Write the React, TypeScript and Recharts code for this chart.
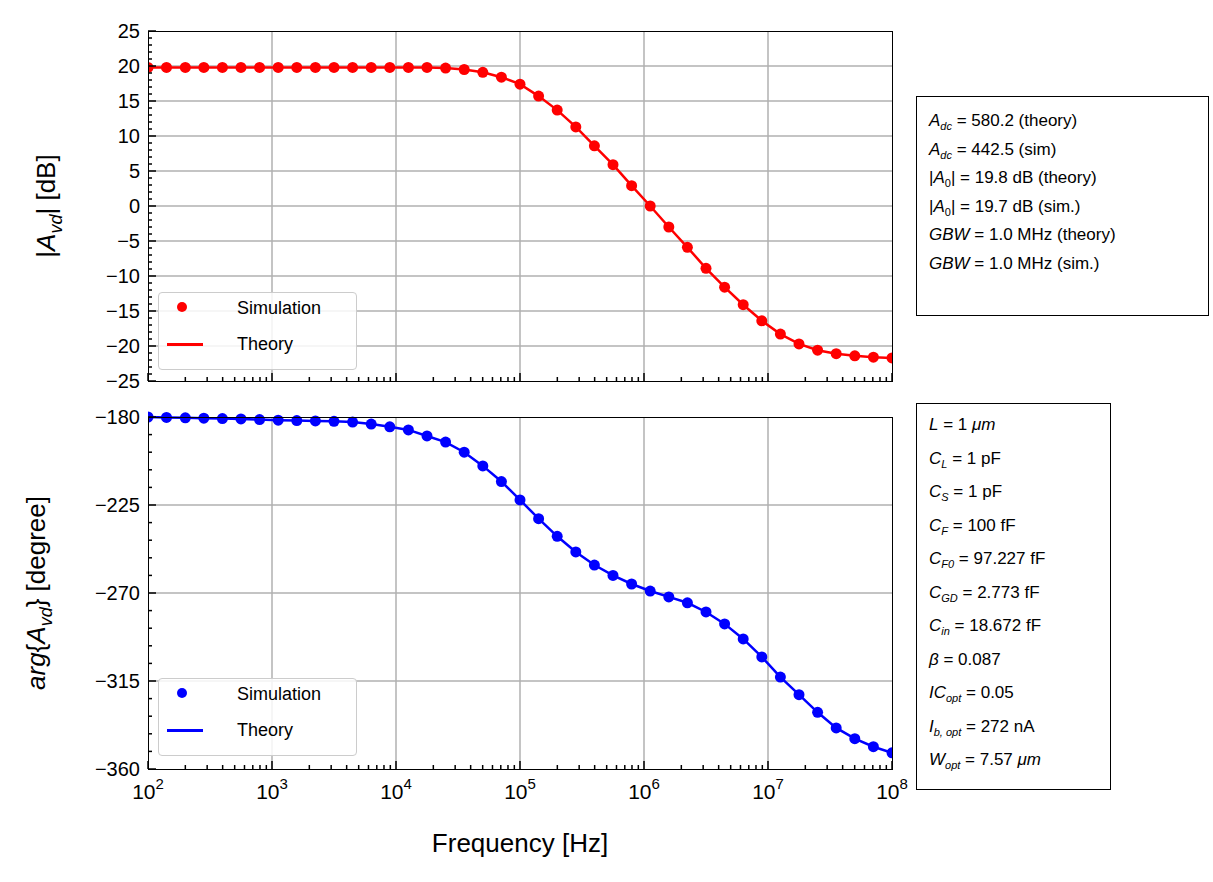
import { LineChart, Line, XAxis, YAxis, ReferenceLine } from "recharts";

const freq = [
  100, 141, 200, 282, 398, 562, 794, 1122, 1585, 2239, 3162, 4467, 6310, 8913,
  12589, 17783, 25119, 35481, 50119, 70795, 100000, 141254, 199526, 281838,
  398107, 562341, 794328, 1122018, 1584893, 2238721, 3162278, 4466836, 6309573,
  8912509, 12589254, 17782794, 25118864, 35481339, 50118723, 70794578, 100000000,
];
const magDb = [
  19.8, 19.8, 19.8, 19.8, 19.8, 19.8, 19.8, 19.8, 19.8, 19.8, 19.8, 19.8, 19.8,
  19.8, 19.8, 19.8, 19.7, 19.5, 19.1, 18.4, 17.4, 15.7, 13.7, 11.3, 8.6, 5.9,
  2.9, 0, -3, -5.9, -8.9, -11.6, -14.1, -16.4, -18.3, -19.7, -20.6, -21.1,
  -21.4, -21.6, -21.7,
];
const phaseDeg = [
  -180, -180.2, -180.4, -180.6, -180.8, -181, -181.3, -181.6, -181.8, -182,
  -182.2, -182.6, -183.6, -185, -186.6, -189.7, -192.8, -198, -205, -213,
  -222.4, -232, -241, -249, -255.7, -261, -265.4, -269, -272, -275, -279.7,
  -285.8, -293.5, -302.7, -313, -322, -331, -339, -344.5, -348.6, -351.7,
];
const decades = [100, 1000, 10000, 100000, 1000000, 10000000, 100000000];
const xTicks = decades.flatMap((d, i) =>
  i === decades.length - 1 ? [d] : [1, 2, 3, 4, 5, 6, 7, 8, 9].map((m) => d * m)
);
const magTicks = Array.from({ length: 51 }, (_, i) => -25 + i);
const magMajor = [-25, -20, -15, -10, -5, 0, 5, 10, 15, 20, 25];
const phaseTicks = Array.from({ length: 21 }, (_, i) => -360 + i * 9);
const phaseMajor = [-360, -315, -270, -225, -180];

const font = "'Liberation Sans', Arial, sans-serif";
const magData = freq.map((f, i) => ({ f, v: magDb[i] }));
const phaseData = freq.map((f, i) => ({ f, v: phaseDeg[i] }));

const isMajorX = (v: number) => decades.some((d) => Math.abs(v / d - 1) < 1e-9);

const XTick = ({ x, payload, labels, axisY }: any) => {
  const major = isMajorX(payload.value);
  const exp = Math.round(Math.log10(payload.value));
  return (
    <g>
      <line x1={x} x2={x} y1={axisY} y2={axisY - (major ? 8 : 4)} stroke="#000" strokeWidth={1.5} />
      {labels && major && (
        <text x={x} y={axisY + 30} textAnchor="middle" fontSize={21} fontFamily={font} fill="#000">
          10<tspan dy={-10} fontSize={15}>{exp}</tspan>
        </text>
      )}
    </g>
  );
};

const YTick = ({ y, payload, majors }: any) => {
  const major = majors.includes(payload.value);
  return (
    <g>
      <line x1={148} x2={148 + (major ? 8 : 4)} y1={y} y2={y} stroke="#000" strokeWidth={1.5} />
      {major && (
        <text x={140} y={y + 7} textAnchor="end" fontSize={20} fontFamily={font} fill="#000">
          {String(payload.value).replace("-", "\u2212")}
        </text>
      )}
    </g>
  );
};

const Legend = ({ color, left, top }: { color: string; left: number; top: number }) => (
  <div
    style={{
      position: "absolute", left, top, width: 197, height: 76, border: "1px solid #ccc",
      borderRadius: 4, background: "rgba(255,255,255,0.85)", fontFamily: font, fontSize: 18,
    }}
  >
    <div style={{ position: "absolute", left: 18, top: 9, width: 10, height: 10, borderRadius: 5, background: color }} />
    <div style={{ position: "absolute", left: 78, top: 5 }}>Simulation</div>
    <div style={{ position: "absolute", left: 8, top: 50, width: 36, height: 2.5, background: color }} />
    <div style={{ position: "absolute", left: 78, top: 41 }}>Theory</div>
  </div>
);

const Frame = ({ left, top, width, height }: any) => (
  <div style={{ position: "absolute", left, top, width, height, border: "1.5px solid #000", boxSizing: "border-box", pointerEvents: "none" }} />
);

const subStyle: any = { fontSize: 11, position: "relative", top: "0.4em", lineHeight: 0 };
const Sub = ({ b, s }: { b: string; s: string }) => (
  <span><i>{b}</i><span style={subStyle}><i>{s}</i></span></span>
);

const boxStyle: any = {
  position: "absolute", border: "1.5px solid #000", background: "#fff", fontFamily: font,
  fontSize: 17, lineHeight: "28.5px", padding: "8px 12px", boxSizing: "border-box", whiteSpace: "nowrap",
};

export default function App() {
  return (
    <div style={{ position: "absolute", left: 0, top: 0, width: 1213, height: 882, background: "#fff" }}>
      <div style={{ position: "absolute", left: 0, top: 0 }}>
        <LineChart width={1213} height={390} data={magData} margin={{ top: 31, bottom: 0, left: 88, right: 321 }}>
          <XAxis dataKey="f" type="number" scale="log" domain={[100, 100000000]} ticks={xTicks}
            height={9} axisLine={false} tickLine={false} interval={0} allowDataOverflow
            tick={(p: any) => <XTick {...p} labels={false} axisY={381} />} />
          <YAxis type="number" domain={[-25, 25]} ticks={magTicks} width={60} axisLine={false}
            tickLine={false} interval={0} tick={(p: any) => <YTick {...p} majors={magMajor} />} />
          {decades.slice(1, -1).map((d) => (
            <ReferenceLine key={d} x={d} stroke="#b0b0b0" strokeWidth={1.5} />
          ))}
          {magMajor.slice(1, -1).map((v) => (
            <ReferenceLine key={v} y={v} stroke="#b0b0b0" strokeWidth={1.5} />
          ))}
          <Line dataKey="v" stroke="#ff0000" strokeWidth={2.5} dot={false} isAnimationActive={false} />
          <Line dataKey="v" stroke="none" dot={{ r: 5.5, fill: "#ff0000", stroke: "none" }} isAnimationActive={false} />
        </LineChart>
      </div>
      <div style={{ position: "absolute", left: 0, top: 390 }}>
        <LineChart width={1213} height={492} data={phaseData} margin={{ top: 27, bottom: 63, left: 88, right: 321 }}>
          <XAxis dataKey="f" type="number" scale="log" domain={[100, 100000000]} ticks={xTicks}
            height={50} axisLine={false} tickLine={false} interval={0} allowDataOverflow
            tick={(p: any) => <XTick {...p} labels axisY={379} />} />
          <YAxis type="number" domain={[-360, -180]} ticks={phaseTicks} width={60} axisLine={false}
            tickLine={false} interval={0} tick={(p: any) => <YTick {...p} majors={phaseMajor} />} />
          {decades.slice(1, -1).map((d) => (
            <ReferenceLine key={d} x={d} stroke="#b0b0b0" strokeWidth={1.5} />
          ))}
          {phaseMajor.slice(1, -1).map((v) => (
            <ReferenceLine key={v} y={v} stroke="#b0b0b0" strokeWidth={1.5} />
          ))}
          <Line dataKey="v" stroke="#0000ff" strokeWidth={2.5} dot={false} isAnimationActive={false} />
          <Line dataKey="v" stroke="none" dot={{ r: 5.5, fill: "#0000ff", stroke: "none" }} isAnimationActive={false} />
        </LineChart>
      </div>
      <Frame left={148} top={31} width={745} height={351} />
      <Frame left={148} top={417} width={745} height={353} />
      <Legend color="#ff0000" left={158} top={292} />
      <Legend color="#0000ff" left={158} top={678} />

      <div style={{ position: "absolute", left: 46, top: 206, transform: "translate(-50%,-50%) rotate(-90deg)", fontFamily: font, fontSize: 26, whiteSpace: "nowrap" }}>
        |<i>A</i><span style={{ ...subStyle, fontSize: 18 }}><i>vd</i></span>| [dB]
      </div>
      <div style={{ position: "absolute", left: 36, top: 593, transform: "translate(-50%,-50%) rotate(-90deg)", fontFamily: font, fontSize: 26, whiteSpace: "nowrap" }}>
        <i>arg</i>{"{"}<i>A</i><span style={{ ...subStyle, fontSize: 18 }}><i>vd</i></span>{"}"} [degree]
      </div>
      <div style={{ position: "absolute", left: 520, top: 843, transform: "translate(-50%,-50%)", fontFamily: font, fontSize: 26, whiteSpace: "nowrap" }}>
        Frequency [Hz]
      </div>

      <div style={{ ...boxStyle, left: 916, top: 96, width: 293, height: 220, paddingTop: 10 }}>
        <div><Sub b="A" s="dc" /> =  580.2 (theory)</div>
        <div><Sub b="A" s="dc" /> =  442.5 (sim)</div>
        <div>|<i>A</i><span style={subStyle}>0</span>| =  19.8 dB (theory)</div>
        <div>|<i>A</i><span style={subStyle}>0</span>| =  19.7 dB (sim.)</div>
        <div><i>GBW</i> =  1.0 MHz (theory)</div>
        <div><i>GBW</i> =  1.0 MHz (sim.)</div>
      </div>
      <div style={{ ...boxStyle, left: 916, top: 403, width: 195, height: 387, lineHeight: "33.5px", paddingTop: 4 }}>
        <div><i>L</i> =  1 <i>μm</i></div>
        <div><Sub b="C" s="L" /> =  1 pF</div>
        <div><Sub b="C" s="S" /> =  1 pF</div>
        <div><Sub b="C" s="F" /> =  100 fF</div>
        <div><Sub b="C" s="F0" /> =  97.227 fF</div>
        <div><Sub b="C" s="GD" /> =  2.773 fF</div>
        <div><Sub b="C" s="in" /> =  18.672 fF</div>
        <div><i>β</i> =  0.087</div>
        <div><Sub b="IC" s="opt" /> =  0.05</div>
        <div><Sub b="I" s="b, opt" /> =  272 nA</div>
        <div><Sub b="W" s="opt" /> =  7.57 <i>μm</i></div>
      </div>
    </div>
  );
}
